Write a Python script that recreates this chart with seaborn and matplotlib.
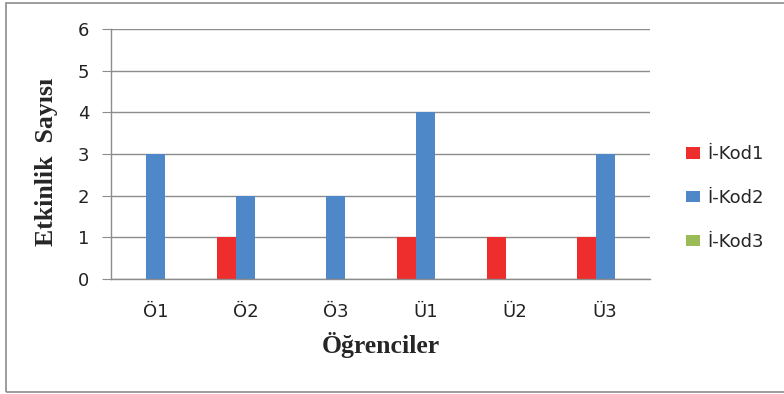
import matplotlib
matplotlib.use("Agg")
import matplotlib.pyplot as plt
import seaborn as sns
import pandas as pd
from matplotlib.patches import Rectangle, Patch

categories = ["Ö1", "Ö2", "Ö3", "Ü1", "Ü2", "Ü3"]
series_names = ["İ-Kod1", "İ-Kod2", "İ-Kod3"]
kod1 = [0, 1, 0, 1, 1, 1]
kod2 = [3, 2, 2, 4, 0, 3]
kod3 = [0, 0, 0, 0, 0, 0]
colors = ["#EE2D2D", "#4F88C8", "#9BBB59"]

rows = []
for name, vals in zip(series_names, [kod1, kod2, kod3]):
    for c, v in zip(categories, vals):
        rows.append({"cat": c, "series": name, "val": v})
df = pd.DataFrame(rows)

sns.set_style("white")
plt.rcParams['font.family'] = ['DejaVu Sans']

fig = plt.figure(figsize=(7.84, 3.94), dpi=100)
ax = fig.add_axes([111/784, 1-279/394, (650-111)/784, (279-29)/394])

sns.barplot(data=df, x="cat", y="val", hue="series", palette=colors,
            width=0.63, gap=0, ax=ax, legend=False, saturation=1, errorbar=None,
            linewidth=0, edgecolor="none")

ax.set_xlim(-0.5, 5.5)
ax.set_ylim(0, 6)
ax.set_yticks(range(0, 7))
ax.yaxis.grid(True, color="#8C8C8C", linewidth=1)
ax.set_axisbelow(True)
for s in ["top", "right"]:
    ax.spines[s].set_visible(False)
ax.spines["left"].set_color("#8C8C8C")
ax.spines["bottom"].set_color("#8C8C8C")
ax.spines["left"].set_linewidth(1)
ax.spines["bottom"].set_linewidth(1)
ax.tick_params(axis="y", left=True, length=6.5, color="#8C8C8C", labelsize=13, pad=9, labelcolor="#222222")
ax.tick_params(axis="x", bottom=False, labelsize=13, pad=14, labelcolor="#222222")

ax.set_xlabel("Öğrenciler", family="Liberation Serif", fontweight="bold", fontsize=18.5, labelpad=8)
ax.set_ylabel("Etkinlik  Sayısı", family="Liberation Serif", fontweight="bold", fontsize=18.5)
ax.yaxis.set_label_coords((58-111)/539, (279-162)/250)

handles = [Patch(facecolor=c, edgecolor="none") for c in colors]
fig.legend(handles, series_names, loc="center left", bbox_to_anchor=(670/784, 1-198/394),
           frameon=False, fontsize=13, labelspacing=1.42, handlelength=0.78, handleheight=0.6,
           handletextpad=0.4)

fig.patches.append(Rectangle((6/784, 2/394), 900/784, 389/394, transform=fig.transFigure,
                             fill=False, edgecolor="#8C8C8C", linewidth=1.2))

fig.savefig("out.png", dpi=100)
